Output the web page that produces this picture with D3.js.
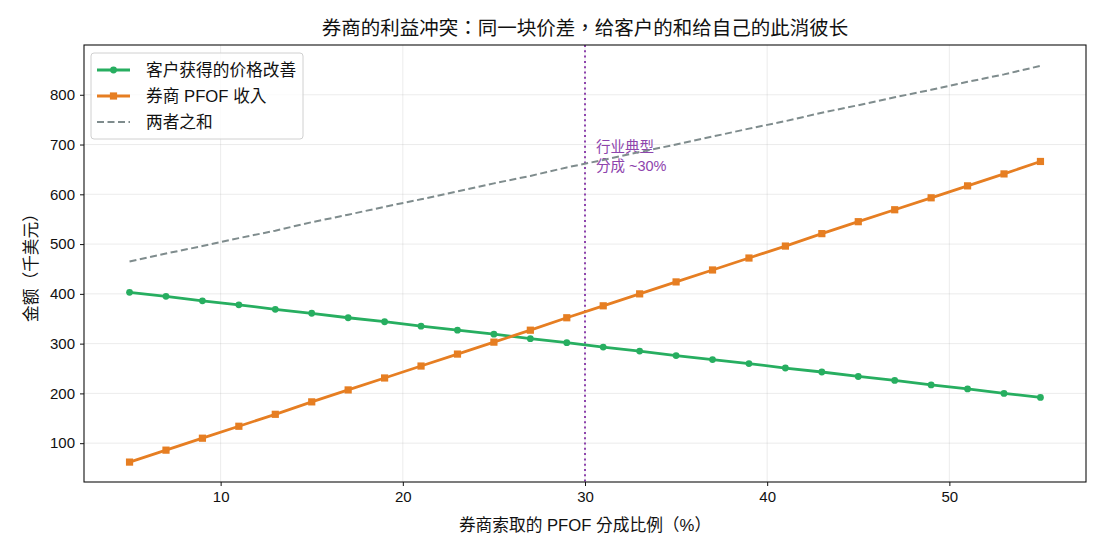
<!DOCTYPE html>
<html>
<head>
<meta charset="utf-8">
<script src="https://cdn.jsdelivr.net/npm/d3@7"></script>
<style>
  body { margin: 0; background: #fff; }
  text { font-family: "Liberation Sans", "Noto Sans CJK TC", sans-serif; fill: #111; }
</style>
</head>
<body>
<div id="chart"></div>
<script>
// PFOF share (%)
const shares = [5, 7, 9, 11, 13, 15, 17, 19, 21, 23, 25, 27, 29, 31, 33, 35, 37, 39, 41, 43, 45, 47, 49, 51, 53, 55];
// price improvement given to the client (k$)
const clientGain = [403, 395, 386, 378, 369, 361, 352, 344, 335, 327, 319, 310, 302, 293, 285, 276, 268, 260, 251, 243, 234, 226, 217, 209, 200, 192];
// broker PFOF income (k$)
const brokerIncome = [62, 86, 110, 134, 158, 183, 207, 231, 255, 279, 303, 327, 352, 376, 400, 424, 448, 472, 496, 521, 545, 569, 593, 617, 641, 666];
const totals = clientGain.map((v, i) => v + brokerIncome[i]);

const xTicks = [10, 20, 30, 40, 50];
const yTicks = [100, 200, 300, 400, 500, 600, 700, 800];
const typicalShare = 30;

const width = 1104;
const height = 552;
const margin = { top: 45, right: 18, bottom: 70, left: 84 };
const w = width - margin.left - margin.right;
const h = height - margin.top - margin.bottom;

const colors = { client: '#27ae60', broker: '#e67e22', total: '#7f8c8d', mark: '#8e44ad' };

const xScale = d3.scaleLinear().domain([2.5, 57.5]).range([0, w]);
const yScale = d3.scaleLinear().domain([22, 900]).range([h, 0]);

const svg = d3.select('#chart')
  .append('svg')
  .attr('width', width)
  .attr('height', height);

const g = svg.append('g')
  .attr('transform', 'translate(' + margin.left + ',' + margin.top + ')');

// grid
g.append('g')
  .selectAll('line.gx')
  .data(xTicks)
  .join('line')
  .attr('x1', d => xScale(d)).attr('x2', d => xScale(d))
  .attr('y1', 0).attr('y2', h)
  .style('stroke', '#b0b0b0').style('stroke-opacity', 0.3).style('stroke-width', 0.8);
g.append('g')
  .selectAll('line.gy')
  .data(yTicks)
  .join('line')
  .attr('x1', 0).attr('x2', w)
  .attr('y1', d => yScale(d)).attr('y2', d => yScale(d))
  .style('stroke', '#b0b0b0').style('stroke-opacity', 0.3).style('stroke-width', 0.8);

// axes
const xAxis = g.append('g')
  .attr('transform', 'translate(0,' + h + ')')
  .call(d3.axisBottom(xScale).tickValues(xTicks).tickSize(4).tickPadding(5).tickSizeOuter(0));
const yAxis = g.append('g')
  .call(d3.axisLeft(yScale).tickValues(yTicks).tickSize(4).tickPadding(5).tickSizeOuter(0));
[xAxis, yAxis].forEach(a => {
  a.select('.domain').remove();
  a.selectAll('text')
    .style('font-size', '15px')
    .style('font-family', '"Liberation Sans", sans-serif')
    .style('fill', '#111');
  a.selectAll('line').style('stroke', '#111');
});

// typical share marker
g.append('line')
  .attr('x1', xScale(typicalShare)).attr('x2', xScale(typicalShare))
  .attr('y1', 0).attr('y2', h)
  .style('stroke', colors.mark)
  .style('stroke-width', 2)
  .style('stroke-dasharray', '2,3.3');
const note = g.append('text')
  .attr('x', xScale(typicalShare) + 11)
  .attr('y', 107)
  .style('font-size', '14.5px')
  .style('fill', colors.mark);
note.append('tspan').attr('x', xScale(typicalShare) + 11).text('行业典型');
note.append('tspan').attr('x', xScale(typicalShare) + 11).attr('dy', 19).text('分成 ~30%');

const line = d3.line()
  .x((d, i) => xScale(shares[i]))
  .y(d => yScale(d));

// sum line
g.append('path')
  .datum(totals)
  .attr('d', line)
  .style('fill', 'none')
  .style('stroke', colors.total)
  .style('stroke-width', 2)
  .style('stroke-dasharray', '7,3.5');

// client line
g.append('path')
  .datum(clientGain)
  .attr('d', line)
  .style('fill', 'none')
  .style('stroke', colors.client)
  .style('stroke-width', 2.8);
g.append('g')
  .selectAll('circle')
  .data(clientGain)
  .join('circle')
  .attr('cx', (d, i) => xScale(shares[i]))
  .attr('cy', d => yScale(d))
  .attr('r', 3.4)
  .style('fill', colors.client);

// broker line
g.append('path')
  .datum(brokerIncome)
  .attr('d', line)
  .style('fill', 'none')
  .style('stroke', colors.broker)
  .style('stroke-width', 2.8);
g.append('g')
  .selectAll('rect')
  .data(brokerIncome)
  .join('rect')
  .attr('x', (d, i) => xScale(shares[i]) - 3.6)
  .attr('y', d => yScale(d) - 3.6)
  .attr('width', 7.2)
  .attr('height', 7.2)
  .style('fill', colors.broker);

// frame
g.append('rect')
  .attr('width', w).attr('height', h)
  .style('fill', 'none')
  .style('stroke', '#111')
  .style('stroke-width', 1.1);

// title and axis labels
svg.append('text')
  .attr('x', margin.left + w / 2)
  .attr('y', 35)
  .attr('text-anchor', 'middle')
  .style('font-size', '19.5px')
  .text('券商的利益冲突：同一块价差，给客户的和给自己的此消彼长');
svg.append('text')
  .attr('x', margin.left + w / 2)
  .attr('y', 531)
  .attr('text-anchor', 'middle')
  .style('font-size', '16.7px')
  .text('券商索取的 PFOF 分成比例（%）');
svg.append('text')
  .attr('transform', 'translate(37,' + (margin.top + h / 2) + ') rotate(-90)')
  .attr('text-anchor', 'middle')
  .style('font-size', '16.7px')
  .text('金额（千美元）');

// legend
const legendItems = [
  { label: '客户获得的价格改善', color: colors.client, marker: 'circle', dash: null },
  { label: '券商 PFOF 收入', color: colors.broker, marker: 'square', dash: null },
  { label: '两者之和', color: colors.total, marker: null, dash: '7,3.5' }
];
const legend = svg.append('g').attr('transform', 'translate(91,53)');
legend.append('rect')
  .attr('width', 212).attr('height', 86)
  .attr('rx', 3)
  .style('fill', '#fff').style('fill-opacity', 0.8)
  .style('stroke', '#d0d0d0');
legendItems.forEach((d, i) => {
  const row = legend.append('g').attr('transform', 'translate(0,' + (17 + i * 26) + ')');
  row.append('line')
    .attr('x1', 6).attr('x2', 39)
    .style('stroke', d.color)
    .style('stroke-width', d.dash ? 2 : 2.8)
    .style('stroke-dasharray', d.dash);
  if (d.marker === 'circle') {
    row.append('circle').attr('cx', 22.5).attr('r', 3.4).style('fill', d.color);
  } else if (d.marker === 'square') {
    row.append('rect').attr('x', 18.9).attr('y', -3.6).attr('width', 7.2).attr('height', 7.2).style('fill', d.color);
  }
  row.append('text')
    .attr('x', 55).attr('y', 6)
    .style('font-size', '16.7px')
    .text(d.label);
});
</script>
</body>
</html>
